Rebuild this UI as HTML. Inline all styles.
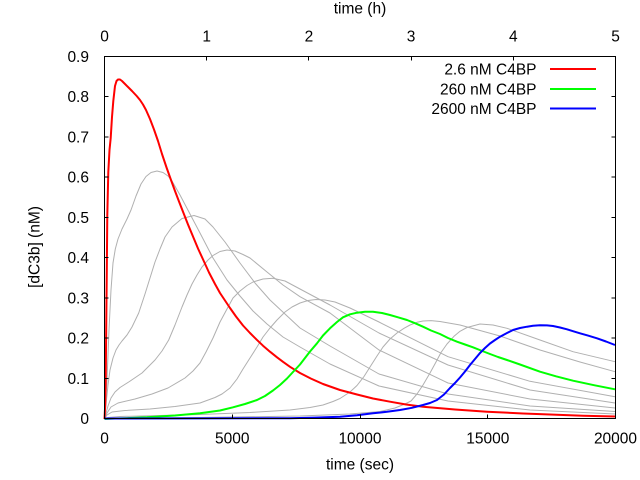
<!DOCTYPE html>
<html><head><meta charset="utf-8"><style>
html,body{margin:0;padding:0;background:#fff;}
svg{display:block;}
text{font-family:"Liberation Sans",Arial,sans-serif;font-size:15.5px;fill:#000;}
</style></head><body>
<svg width="640" height="480" viewBox="0 0 640 480" xmlns="http://www.w3.org/2000/svg">
<rect x="0" y="0" width="640" height="480" fill="#fff"/>

<!-- gray family -->
<g fill="none" stroke="#b0b0b0" stroke-width="1" stroke-linejoin="round">
<path d="M104.5,419 L105.5,405 L107,380 L109,330 L111,290 L113,263 L115.3,249 L118,239 L122,229 L127,219 L131,210 L136,196 L141,184 L146,176.5 L151,172.5 L157,171 L163,172.5 L168,176 L172,181 L180,195 L190,214 L200,233 L213,258 L227,280 L240,296 L253,311 L267,324 L283,337 L300,347 L330,364 L379,386 L448,401 L530,410 L615,414"/>
<path d="M104.5,419 L106,405 L108,385 L110,370 L113,358 L116,350 L119,345 L122,341 L127,335 L132,327 L138.7,313 L145,294 L150,278 L155,262 L160,249 L165,237 L172,227 L182,218.5 L194,215.5 L205,219 L213,227 L225,242 L240,263 L255,283 L270,300 L285,314 L300,328 L330,346 L379,374 L448,394 L530,406 L615,411.5"/>
<path d="M104.5,419 L106,413 L108,406 L111,398 L115,392 L120,387.5 L128.7,382 L142,373 L155,360 L162,351 L168.7,340 L175,325 L182,307 L187,295 L192,284 L197,275 L202,267 L208,260 L213,255.5 L220,251.5 L227,250 L235,251 L243,254.5 L250,258 L267,272 L283,285 L300,296.7 L330,313 L379,350 L448,383 L530,399 L615,408"/>
<path d="M104.5,419 L107,413 L111,407 L118,403 L135,399 L152,394 L168,388 L185,378 L193,371 L200,363 L206,352 L213,338 L220,322 L227,309 L233,298 L240,291 L247,285.5 L253,282 L263,279 L273,278.3 L285,281 L300,289 L330,305 L379,333 L448,365 L530,390 L615,403"/>
<path d="M104.5,419 L107,415 L112,412 L125,410.5 L150,409 L175,406.5 L200,403 L215,397.5 L222,394 L230,388 L237,379 L243,369 L250,358 L257,347 L263,337 L270,328 L277,320 L285,312 L292,307 L300,303 L308,300.5 L316,299.5 L325,300 L335,302 L350,308 L379,322 L448,356.7 L530,381.3 L615,396.7"/>
<path d="M104.5,419 L108,417.5 L120,416.5 L160,415.5 L200,414.5 L250,412.5 L290,410 L310,407.5 L323,405 L333,401.5 L340,398.5 L350,392 L357,385.5 L364,376.5 L370,367 L377,356 L383,347 L390,339 L397,333 L404,328.3 L410,325 L417,322.3 L423,321 L431,320.6 L440,321.5 L460,325 L500,336 L540,350 L580,362 L615,371.7"/>
<path d="M104.5,419 L110,418.3 L200,417.5 L300,416 L350,414 L380,411.5 L395,408 L405,404 L411,401 L417,394 L423,385 L430,373 L436,362 L441,352.5 L447,344 L454,336.3 L460,331.3 L467,327.5 L480,324 L493,325 L507,328.3 L540,340 L573,351.7 L615,361.7"/>
</g>

<!-- red -->
<path fill="none" stroke="#ff0000" stroke-width="2" stroke-linejoin="round" d="M104.5,419 L105.2,405 L105.7,380 L106.2,330 L106.8,270 L107.3,215 L108.3,172 L109.5,150 L110.7,138 L112,117 L113.3,101 L115,86 L116.5,81 L118,79.5 L120,79.5 L122,81 L125,84 L128,87 L132,91 L136.7,96 L140,100 L143,104.5 L146,110 L150,119 L154,129.5 L158,141 L162,154 L166.7,168 L171,180 L175,191 L179,201.5 L183.3,212.5 L188,224.5 L193,236.5 L198,248.5 L203.3,260 L209,272.5 L215,284 L220,293 L225,300.5 L230,308 L236,316.5 L243,325.5 L250,333 L256.7,339.7 L263,345.7 L270,351.7 L277,357.3 L283,361.8 L290,366.8 L300,373 L311,378.6 L323,384 L340,390 L357,394.5 L373,398.5 L390,401.7 L406,404.5 L423,406.7 L455,409.5 L487,411.7 L523,413.5 L550,414.5 L583,415.7 L615,416.5"/>

<!-- green -->
<path fill="none" stroke="#00ff00" stroke-width="2" stroke-linejoin="round" d="M104.5,419 L115,418.5 L130,418 L147,417.3 L175,415.5 L200,413.3 L220,410.5 L233,407.3 L245,404 L257,400 L265,396 L273,390.5 L280,385 L287,378.5 L293,372 L300,364.5 L305,358 L310,351.5 L317,343.3 L323,335.5 L330,328.3 L337,322 L343,317.3 L350,314.3 L357,312.7 L365,311.7 L373,311.7 L382,313 L390,315 L398,317.3 L407,320 L415,323.2 L423,326.7 L431,330.5 L440,334 L448,338 L457,341.7 L465,344.5 L473,347.3 L481,350.5 L490,354 L498,357 L507,360 L520,364.5 L540,371.7 L556,376.3 L573,380.7 L594,385.2 L615,389.3"/>

<!-- blue -->
<path fill="none" stroke="#0000ff" stroke-width="2" stroke-linejoin="round" d="M104.5,418.5 L200,418.4 L290,418.2 L315,417.6 L340,416.7 L357,415.2 L373,413.3 L387,411.8 L400,410 L412,407.8 L423,405 L430,403 L437,400 L444,394.5 L450,388 L455,383 L460,377.5 L465,371.5 L470,365 L475,359 L480,353 L485,348 L490,343.5 L495,340 L500,336.7 L507,333 L513,330 L520,328 L527,326.7 L533,325.8 L540,325.3 L547,325.4 L553,326 L560,327.5 L567,329.3 L573,331.2 L580,333.3 L588,335.6 L597,338.3 L606,341.5 L615,345"/>

<!-- frame -->
<rect x="104.5" y="56.5" width="511" height="362" fill="none" stroke="#000" stroke-width="1" shape-rendering="crispEdges"/>

<!-- ticks -->
<g stroke="#000" stroke-width="1" shape-rendering="crispEdges">
<path d="M104.5,378.3h4M104.5,338.1h4M104.5,297.8h4M104.5,257.6h4M104.5,217.4h4M104.5,177.2h4M104.5,136.9h4M104.5,96.7h4
M615.5,378.3h-4M615.5,338.1h-4M615.5,297.8h-4M615.5,257.6h-4M615.5,217.4h-4M615.5,177.2h-4M615.5,136.9h-4M615.5,96.7h-4"/>
<path d="M232.5,418.5v-4M360.5,418.5v-4M487.5,418.5v-4"/>
<path d="M206.5,56.5v4M308.5,56.5v4M411.5,56.5v4M513.5,56.5v4"/>
</g>

<!-- y tick labels -->
<g text-anchor="end">
<text x="89" y="424">0</text>
<text x="89" y="383.8">0.1</text>
<text x="89" y="343.6">0.2</text>
<text x="89" y="303.3">0.3</text>
<text x="89" y="263.1">0.4</text>
<text x="89" y="222.9">0.5</text>
<text x="89" y="182.7">0.6</text>
<text x="89" y="142.4">0.7</text>
<text x="89" y="102.2">0.8</text>
<text x="89" y="62">0.9</text>
</g>

<!-- x tick labels -->
<g text-anchor="middle">
<text x="104.5" y="443.5">0</text>
<text x="232.3" y="443.5">5000</text>
<text x="360" y="443.5">10000</text>
<text x="487.8" y="443.5">15000</text>
<text x="615.5" y="443.5">20000</text>
<text x="104.5" y="41.5">0</text>
<text x="206.7" y="41.5">1</text>
<text x="308.9" y="41.5">2</text>
<text x="411.1" y="41.5">3</text>
<text x="513.3" y="41.5">4</text>
<text x="615.5" y="41.5">5</text>
<text x="360" y="13.5">time (h)</text>
<text x="360" y="469.5">time (sec)</text>
<text x="0" y="0" transform="translate(39.5,247) rotate(-90)">[dC3b] (nM)</text>
</g>

<!-- legend -->
<g text-anchor="end">
<text x="536.5" y="74.5">2.6 nM C4BP</text>
<text x="536.5" y="94.3">260 nM C4BP</text>
<text x="536.5" y="114.1">2600 nM C4BP</text>
</g>
<g stroke-width="2" shape-rendering="crispEdges">
<line x1="550" y1="69" x2="596" y2="69" stroke="#ff0000"/>
<line x1="550" y1="88.8" x2="596" y2="88.8" stroke="#00ff00"/>
<line x1="550" y1="108.6" x2="596" y2="108.6" stroke="#0000ff"/>
</g>
</svg>
</body></html>
